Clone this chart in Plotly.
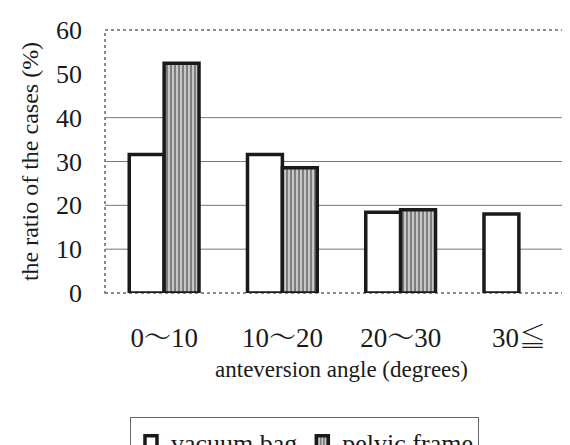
import plotly.graph_objects as go

categories = ["0〜10", "10〜20", "20〜30", "30≦"]
vacuum_bag = [31.6, 31.6, 18.4, 18.0]
pelvic_frame = [52.4, 28.6, 19.0, None]
grid_values = [10, 20, 30, 40]
y_ticks = [0, 10, 20, 30, 40, 50, 60]

FONT = "Liberation Serif"
CJK = "Noto Serif CJK JP"


def styled(label):
    out = ""
    for ch in label:
        if ord(ch) > 0x2000:
            out += f'<span style="font-family:{CJK}">{ch}</span>'
        else:
            out += ch
    return out


tick_text = [styled(c) for c in categories]

fig = go.Figure()
fig.add_trace(go.Bar(
    x=categories, y=vacuum_bag, name="vacuum bag",
    marker=dict(color="white", line=dict(color="#1a1a1a", width=3.5)),
))
fig.add_trace(go.Bar(
    x=categories, y=pelvic_frame, name="pelvic frame",
    marker=dict(color="#b0b0b0", line=dict(color="#1a1a1a", width=3.5),
                pattern=dict(shape="|", fgcolor="#222222", bgcolor="#c8c8c8",
                             size=4, solidity=0.45, fillmode="overlay")),
))

for g in grid_values:
    fig.add_shape(type="line", xref="paper", x0=0, x1=1, yref="y", y0=g, y1=g,
                  line=dict(color="#777777", width=1), layer="below")
fig.add_shape(type="rect", xref="paper", yref="paper", x0=0, x1=1, y0=0, y1=1,
              line=dict(color="#666666", width=1.5, dash="dot"), layer="below")

fig.update_layout(
    width=570, height=445,
    margin=dict(l=97, r=0, t=22, b=160, pad=0, autoexpand=False),
    paper_bgcolor="white", plot_bgcolor="white",
    font=dict(family=FONT, color="#1a1a1a"),
    barmode="group", bargap=0.41, bargroupgap=0,
    showlegend=True,
    legend=dict(orientation="h", xref="container", yref="container",
                x=0.214, xanchor="left", y=0.08, yanchor="top",
                font=dict(family=FONT, size=26, color="#1a1a1a"),
                bordercolor="#666666", borderwidth=1, bgcolor="white",
                tracegroupgap=0),
    xaxis=dict(showgrid=False, zeroline=False, showline=False, ticks="",
               automargin=False,
               tickmode="array", tickvals=categories, ticktext=tick_text,
               tickfont=dict(family=FONT, size=27), ticklabelstandoff=26,
               title=dict(text="anteversion angle (degrees)",
                          font=dict(family=FONT, size=23), standoff=6)),
    yaxis=dict(range=[0, 60], tickvals=y_ticks, showgrid=False, zeroline=False,
               showline=False, ticks="", tickfont=dict(family=FONT, size=26),
               automargin=False, ticklabelstandoff=22,
               title=dict(text="the ratio of the cases (%)",
                          font=dict(family=FONT, size=24), standoff=10)),
)

fig.write_html("out.html")
